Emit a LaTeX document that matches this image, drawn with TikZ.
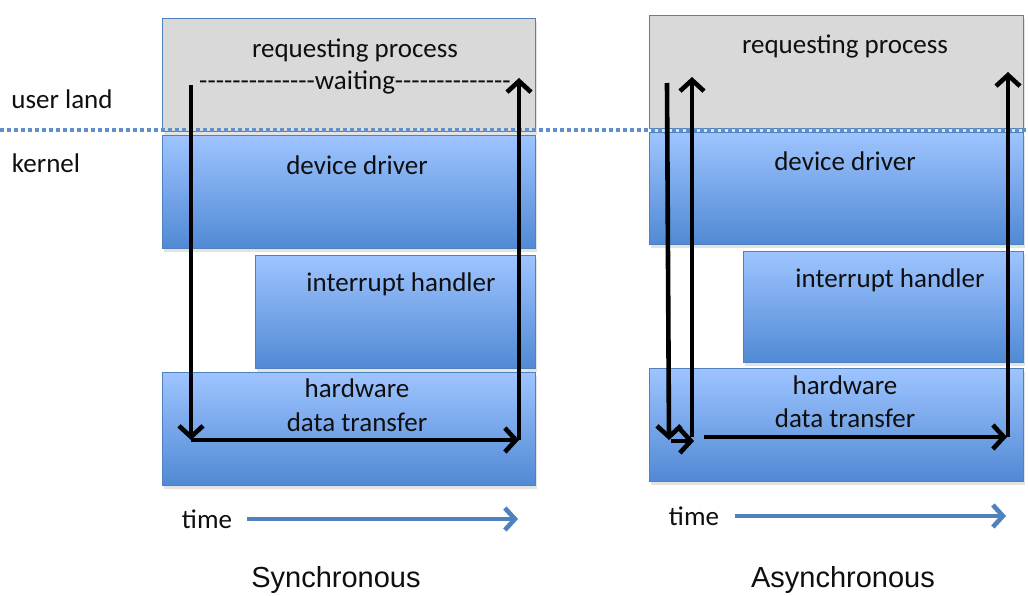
\documentclass[tikz,border=0pt]{standalone}
\usepackage{fontspec}
\setmainfont{Carlito}
\newfontfamily\capfont{Liberation Sans}
\usetikzlibrary{arrows.meta,shadows}
\definecolor{bordblue}{RGB}{79,129,189}
\definecolor{dotblue}{RGB}{95,143,205}
\definecolor{boxtop}{RGB}{158,196,255}
\definecolor{boxmid}{RGB}{140,184,246}
\definecolor{boxbot}{RGB}{80,137,212}
\definecolor{procgray}{RGB}{217,217,217}
\definecolor{txt}{RGB}{15,15,15}
\newcommand\dashrun[1]{\foreach\k in {1,...,#1}{-\kern0pt}}
\begin{document}
\begin{tikzpicture}[x=1pt,y=-1pt,
  layer/.style={draw=bordblue, line width=1.2pt, anchor=north west, inner sep=0pt,
    drop shadow={shadow xshift=1.5pt, shadow yshift=-3pt, opacity=0.22}},
  procbox/.style={layer, fill=procgray},
  kbox/.style={layer, top color=boxtop, middle color=boxmid, bottom color=boxbot},
  lbl/.style={font=\fontsize{27}{30}\selectfont, text=txt, inner sep=0pt},
  flow/.style={draw=black, line width=4.6pt, -{Straight Barb[length=11pt,width=24pt]}},
  timearrow/.style={draw=bordblue, line width=4.6pt, -{Straight Barb[length=10pt,width=22pt]}},
  caption/.style={font=\capfont\fontsize{29}{32}\selectfont, text=txt, inner sep=0pt},
  dotline/.style={draw=dotblue, line width=4pt, dash pattern=on 4pt off 3pt}
]
\useasboundingbox[fill=white] (0,0) rectangle (1028,596);

% ---------- Synchronous panel ----------
\node[procbox, minimum width=373pt, minimum height=113pt] (procL) at (162,18) {};
\node[kbox, minimum width=373pt, minimum height=113pt] (ddL) at (162,135) {};
\node[kbox, minimum width=280pt, minimum height=113pt] (ihL) at (255,255) {};
\node[kbox, minimum width=373pt, minimum height=113pt] (hwL) at (162,372) {};

% ---------- Asynchronous panel ----------
\node[procbox, minimum width=374pt, minimum height=113pt] (procR) at (649,15) {};
\node[kbox, minimum width=374pt, minimum height=112pt] (ddR) at (649,132) {};
\node[kbox, minimum width=280pt, minimum height=111pt] (ihR) at (743,251) {};
\node[kbox, minimum width=374pt, minimum height=113pt] (hwR) at (649,368) {};

% ---------- user/kernel boundary ----------
\coordinate (bl) at (0,130);
\coordinate (br) at (1028,130);
\draw[dotline] (bl) -- (br);

\node[lbl] (user) at (62,99) {user land};
\node[lbl] (kern) at (46,163) {kernel};

% ---------- labels left ----------
\node[lbl] (tprocL) at (355,50) {requesting process};
\node[lbl] (twait) at (355,82) {\dashrun{14}waiting\dashrun{14}};
\node[lbl] (tddL) at (357,165) {device driver};
\node[lbl] (tihL) at (401,284) {interrupt handler};
\node[lbl] (thwL) at (357,388) {hardware};
\node[lbl] (tdtL) at (357,422) {data transfer};
\node[lbl] (timeL) at (207,519) {time};
\node[caption] (sync) at (336,580) {Synchronous};

% ---------- labels right ----------
\node[lbl] (tprocR) at (845,46) {requesting process};
\node[lbl] (tddR) at (845,161) {device driver};
\node[lbl] (tihR) at (890,280) {interrupt handler};
\node[lbl] (thwR) at (845,385) {hardware};
\node[lbl] (tdtR) at (845,418) {data transfer};
\node[lbl] (timeR) at (694,516) {time};
\node[caption] (async) at (843,580) {Asynchronous};

% ---------- time arrows ----------
\coordinate (tl1) at (247,519);
\coordinate (tl2) at (518,519);
\draw[timearrow] (tl1) -- (tl2);
\coordinate (tr1) at (735,516);
\coordinate (tr2) at (1006,516);
\draw[timearrow] (tr1) -- (tr2);

% ---------- flow arrows left ----------
\coordinate (s1) at (191,85);
\coordinate (s2) at (191,440);
\coordinate (s3) at (519,440);
\coordinate (s4) at (519,78);
\draw[flow] (s1) -- (s2);
\draw[flow] (s2) -- (s3);
\draw[flow] (s3) -- (s4);

% ---------- flow arrows right ----------
\coordinate (a1) at (667,83);
\coordinate (a2) at (669,440);
\coordinate (a3) at (671,441);
\coordinate (a4) at (694,441);
\coordinate (a5) at (692,437);
\coordinate (a6) at (692,77);
\coordinate (a7) at (704,437);
\coordinate (a8) at (1007,437);
\coordinate (a9) at (1008,437);
\coordinate (a10) at (1008,72);
\draw[flow] (a1) -- (a2);
\draw[flow] (a3) -- (a4);
\draw[flow] (a5) -- (a6);
\draw[flow] (a7) -- (a8);
\draw[flow] (a9) -- (a10);
\end{tikzpicture}
\end{document}
